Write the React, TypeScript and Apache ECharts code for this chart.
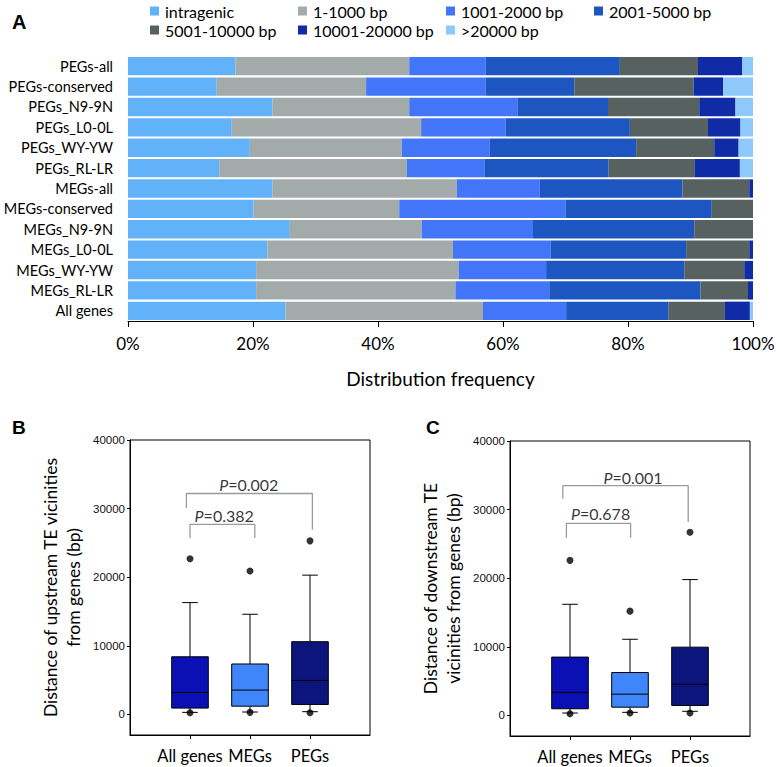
import React, { useEffect, useRef } from "react";
import * as echarts from "echarts";

// ---------- Panel A data ----------
const groups = [
  "PEGs-all", "PEGs-conserved", "PEGs_N9-9N", "PEGs_L0-0L", "PEGs_WY-YW", "PEGs_RL-LR",
  "MEGs-all", "MEGs-conserved", "MEGs_N9-9N", "MEGs_L0-0L", "MEGs_WY-YW", "MEGs_RL-LR", "All genes",
];
const distClasses = [
  "intragenic", "1-1000 bp", "1001-2000 bp", "2001-5000 bp",
  "5001-10000 bp", "10001-20000 bp", ">20000 bp",
];
const intragenic = [17.2, 14.2, 23.1, 16.6, 19.5, 14.6, 23.1, 20.1, 25.9, 22.3, 20.5, 20.5, 25.2];
const bp1to1000 = [27.8, 23.9, 21.9, 30.3, 24.3, 30.0, 29.5, 23.3, 21.1, 29.7, 32.4, 31.9, 31.6];
const bp1001to2000 = [12.2, 19.1, 17.3, 13.5, 14.1, 12.5, 13.3, 26.6, 17.8, 15.6, 14.0, 15.0, 13.3];
const bp2001to5000 = [21.5, 14.2, 14.5, 19.9, 23.4, 19.8, 22.8, 23.4, 25.8, 21.7, 22.1, 24.2, 16.4];
const bp5001to10000 = [12.5, 19.1, 14.6, 12.5, 12.5, 13.8, 10.7, 6.6, 9.4, 10.1, 9.6, 7.6, 9.0];
const bp10001to20000 = [7.1, 4.7, 5.8, 5.2, 3.9, 7.2, 0.6, 0, 0, 0.6, 1.4, 0.8, 4.0];
const bpOver20000 = [1.7, 4.8, 2.8, 2.0, 2.3, 2.1, 0, 0, 0, 0, 0, 0, 0.5];
const distValues = [intragenic, bp1to1000, bp1001to2000, bp2001to5000, bp5001to10000, bp10001to20000, bpOver20000];
const pctTicks = [0, 20, 40, 60, 80, 100];

// ---------- Panels B & C data ----------
const boxCats = ["All genes", "MEGs", "PEGs"];
const boxPos = [1, 2, 3];
// [lower whisker, Q1, median, Q3, upper whisker]
const upAll = [300, 920, 3200, 8400, 16300];
const upMEGs = [350, 1200, 3550, 7350, 14600];
const upPEGs = [400, 1450, 4950, 10600, 20300];
const upHighDots = [22700, 20900, 25300];
const upLowDots = [250, 300, 250];
const downAll = [350, 970, 3350, 8500, 16200];
const downMEGs = [450, 1200, 3100, 6250, 11100];
const downPEGs = [600, 1450, 4550, 9950, 19800];
const downHighDots = [22600, 15200, 26700];
const downLowDots = [250, 350, 350];
const distTicks = [0, 10000, 20000, 30000, 40000];

// brackets: [x, y] points; labels
const upBracket1 = [[1.0, 25700], [1.0, 27700], [2.08, 27700], [2.08, 25700]];
const upBracket2 = [[0.94, 30100], [0.94, 32200], [3.04, 32200], [3.04, 26900]];
const upLabels = [[1.57, 29000, "0.382"], [1.98, 33500, "0.002"]];
const downBracket1 = [[0.94, 25900], [0.94, 28000], [2.01, 28000], [2.01, 25900]];
const downBracket2 = [[0.88, 31600], [0.88, 33500], [2.97, 33500], [2.97, 28200]];
const downLabels = [[1.51, 29400, "0.678"], [2.05, 34700, "0.001"]];

const distColors = ["#62b2fa", "#a3abaa", "#4275f8", "#1d56c0", "#566160", "#0f2ca6", "#8dcafb"];
const boxColors = ["#0a10b4", "#3f86fa", "#0b157c"];

const FONT = "Lato";

export default function App() {
  const ref = useRef<HTMLDivElement>(null);

  useEffect(() => {
    const chart = echarts.init(ref.current!, null, { renderer: "svg" });

    const legendCols = [150, 298, 446, 594];
    const legendRows = [3, 22];
    const legends = distClasses.map((name, i) => ({
      data: [name],
      left: legendCols[i % 4],
      top: legendRows[Math.floor(i / 4)],
      padding: 0,
      icon: "rect",
      itemWidth: 9,
      itemHeight: 9,
      itemGap: 0,
      textStyle: { fontFamily: FONT, fontSize: 16, color: "#000", padding: [0, 0, 0, 1] },
      selectedMode: false,
    }));

    const renderBox = (params: any, api: any) => {
      const x = api.value(0);
      const lo = api.coord([x, api.value(1)]);
      const q1 = api.coord([x, api.value(2)]);
      const med = api.coord([x, api.value(3)]);
      const q3 = api.coord([x, api.value(4)]);
      const hi = api.coord([x, api.value(5)]);
      const left = api.coord([x - 0.305, 0])[0];
      const right = api.coord([x + 0.305, 0])[0];
      const cl = api.coord([x - 0.13, 0])[0];
      const cr = api.coord([x + 0.13, 0])[0];
      const st = { stroke: "#000", lineWidth: 1 };
      return {
        type: "group",
        children: [
          { type: "line", shape: { x1: hi[0], y1: hi[1], x2: q3[0], y2: q3[1] }, style: st },
          { type: "line", shape: { x1: cl, y1: hi[1], x2: cr, y2: hi[1] }, style: st },
          { type: "line", shape: { x1: lo[0], y1: lo[1], x2: q1[0], y2: q1[1] }, style: st },
          { type: "line", shape: { x1: cl, y1: lo[1], x2: cr, y2: lo[1] }, style: st },
          {
            type: "rect",
            shape: { x: left, y: q3[1], width: right - left, height: q1[1] - q3[1] },
            style: { fill: boxColors[params.dataIndex], stroke: "#000", lineWidth: 1 },
          },
          { type: "line", shape: { x1: left, y1: med[1], x2: right, y2: med[1] }, style: st },
        ],
      };
    };

    const boxData = (arrs: number[][]) => arrs.map((a, i) => [boxPos[i], ...a]);
    const dotData = (vals: number[]) => vals.map((v, i) => [boxPos[i], v]);

    const panelAxesX = (idx: number) => ({
      type: "value",
      gridIndex: idx,
      min: 0,
      max: 4,
      splitLine: { show: false },
      axisLine: { show: true, onZero: false, lineStyle: { color: "#000", width: 1 } },
      axisTick: { show: true, customValues: boxPos, length: 4, lineStyle: { color: "#000" } },
      axisLabel: {
        customValues: boxPos,
        formatter: (v: number) => boxCats[Math.round(v) - 1] ?? "",
        fontFamily: FONT,
        fontSize: 16.5,
        color: "#000",
        margin: 12,
      },
    });
    const panelAxesY = (idx: number, name: string) => ({
      type: "value",
      gridIndex: idx,
      min: -3000,
      max: 40000,
      splitLine: { show: false },
      axisLine: { show: true, onZero: false, lineStyle: { color: "#000", width: 1 } },
      axisTick: { show: true, customValues: distTicks, length: 3, lineStyle: { color: "#000" } },
      axisLabel: {
        customValues: distTicks,
        formatter: (v: number) => String(v),
        fontFamily: "Arial",
        fontSize: 11.5,
        color: "#111",
        margin: 5,
      },
      name,
      nameLocation: "middle",
      nameGap: 45,
      nameTextStyle: { fontFamily: FONT, fontSize: 17.5, lineHeight: 23, color: "#000" },
    });

    const bracketSeries = (pts: number[][], idx: number) => ({
      type: "line",
      xAxisIndex: idx,
      yAxisIndex: idx,
      data: pts,
      symbol: "none",
      lineStyle: { color: "#9a9a9a", width: 1.3 },
      silent: true,
    });
    const labelSeries = (labels: any[], idx: number) => ({
      type: "scatter",
      xAxisIndex: idx,
      yAxisIndex: idx,
      symbolSize: 0,
      data: labels.map((l) => ({ value: [l[0], l[1]], pv: l[2] })),
      label: {
        show: true,
        position: "inside",
        formatter: (p: any) => `{i|P}{n|=${p.data.pv}}`,
        rich: {
          i: { fontFamily: FONT, fontSize: 16, fontStyle: "italic", color: "#000" },
          n: { fontFamily: FONT, fontSize: 16, color: "#000" },
        },
      },
      silent: true,
    });

    const option: any = {
      animation: false,
      backgroundColor: "#fff",
      title: [
        { text: "A", left: 7, top: 7, textStyle: { fontFamily: "Arial", fontWeight: "bold", fontSize: 20, color: "#000" } },
        { text: "B", left: 7, top: 413, textStyle: { fontFamily: "Arial", fontWeight: "bold", fontSize: 19, color: "#000" } },
        { text: "C", left: 421, top: 413, textStyle: { fontFamily: "Arial", fontWeight: "bold", fontSize: 19, color: "#000" } },
      ],
      legend: legends,
      grid: [
        { left: 128, top: 56, width: 625, height: 265, show: false, outerBoundsMode: "none", containLabel: false },
        { left: 130, top: 440, width: 240, height: 295, show: true, borderColor: "#000", borderWidth: 1, outerBoundsMode: "none", containLabel: false },
        { left: 510, top: 441, width: 240, height: 295, show: true, borderColor: "#000", borderWidth: 1, outerBoundsMode: "none", containLabel: false },
      ],
      xAxis: [
        {
          type: "value",
          gridIndex: 0,
          min: 0,
          max: 100,
          interval: 20,
          splitLine: { show: false },
          axisLine: { show: true, lineStyle: { color: "#000", width: 1 } },
          axisTick: { show: true, length: 6, lineStyle: { color: "#000" } },
          axisLabel: {
            formatter: (v: number) => (pctTicks.includes(v) ? `${v}%` : ""),
            fontFamily: FONT,
            fontSize: 17,
            color: "#000",
            margin: 14,
          },
          name: "Distribution frequency",
          nameLocation: "middle",
          nameGap: 48,
          nameTextStyle: { fontFamily: FONT, fontSize: 19, color: "#000" },
        },
        panelAxesX(1),
        panelAxesX(2),
      ],
      yAxis: [
        {
          type: "category",
          gridIndex: 0,
          inverse: true,
          data: groups,
          axisLine: { show: false },
          axisTick: { show: false },
          axisLabel: { interval: 0, fontFamily: FONT, fontSize: 14.5, color: "#000", margin: 15 },
        },
        panelAxesY(1, "Distance of upstream TE vicinities\nfrom genes (bp)"),
        panelAxesY(2, "Distance of downstream TE\nvicinities from genes (bp)"),
      ],
      series: [
        ...distClasses.map((name, i) => ({
          name,
          type: "bar",
          stack: "dist",
          xAxisIndex: 0,
          yAxisIndex: 0,
          barCategoryGap: "10%",
          data: distValues[i],
          itemStyle: { color: distColors[i] },
          silent: true,
        })),
        {
          type: "custom",
          xAxisIndex: 1,
          yAxisIndex: 1,
          renderItem: renderBox,
          data: boxData([upAll, upMEGs, upPEGs]),
          z: 3,
        },
        {
          type: "custom",
          xAxisIndex: 2,
          yAxisIndex: 2,
          renderItem: renderBox,
          data: boxData([downAll, downMEGs, downPEGs]),
          z: 3,
        },
        {
          type: "scatter",
          xAxisIndex: 1,
          yAxisIndex: 1,
          symbolSize: 7,
          itemStyle: { color: "#000" },
          data: [...dotData(upHighDots), ...dotData(upLowDots)],
          z: 5,
        },
        {
          type: "scatter",
          xAxisIndex: 2,
          yAxisIndex: 2,
          symbolSize: 7,
          itemStyle: { color: "#000" },
          data: [...dotData(downHighDots), ...dotData(downLowDots)],
          z: 5,
        },
        bracketSeries(upBracket1, 1),
        bracketSeries(upBracket2, 1),
        bracketSeries(downBracket1, 2),
        bracketSeries(downBracket2, 2),
        labelSeries(upLabels, 1),
        labelSeries(downLabels, 2),
      ],
    };

    chart.setOption(option);
    return () => chart.dispose();
  }, []);

  return (
    <div
      ref={ref}
      style={{ position: "absolute", left: 0, top: 0, width: 776, height: 767 }}
    />
  );
}
